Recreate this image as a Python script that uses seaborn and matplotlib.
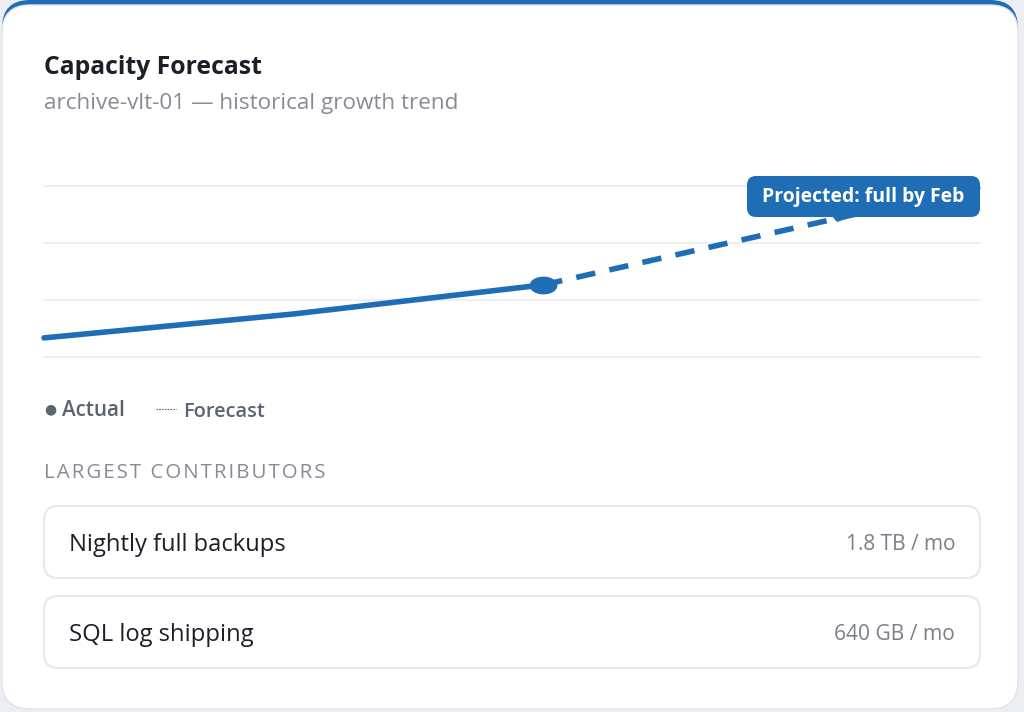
import numpy as np
import pandas as pd
import seaborn as sns
import matplotlib.pyplot as plt
from matplotlib.patches import FancyBboxPatch, Polygon
from matplotlib.path import Path

# ── data ────────────────────────────────────────────────────────────────────
months_actual = [0, 4, 8]            # months since start of history
used_actual = [46.7, 55.1, 65.3]     # % of capacity used
months_forecast = [8, 15]
used_forecast = [65.3, 100.0]
grid_levels = [40, 60, 80, 100]
contributors = ["Nightly full backups", "SQL log shipping"]
contrib_rates = ["1.8 TB / mo", "640 GB / mo"]

BLUE = "#1f6db5"
W, H = 1024, 712

sns.set_theme(style="white")
plt.rcParams["font.family"] = ["Open Sans", "DejaVu Sans"]

fig = plt.figure(figsize=(W / 100, H / 100), dpi=100)
fig.patch.set_facecolor("#eceef2")
renderer = fig.canvas.get_renderer()


def fit_text(ax, x, y, s, width, **kw):
    # size the text so that it spans the same width as in the mockup
    t = ax.text(x, y + 2, s, fontsize=12, **kw)
    w = t.get_window_extent(renderer=renderer).width
    t.set_fontsize(12 * width / w)
    return t


# background layer in pixel coordinates
bg = fig.add_axes([0, 0, 1, 1], zorder=-1)
bg.set_xlim(0, W)
bg.set_ylim(H, 0)
bg.axis("off")

bg.add_patch(FancyBboxPatch((2, 0), 1016, 709, boxstyle="round,pad=0,rounding_size=28",
                            facecolor=BLUE, edgecolor="none"))
bg.add_patch(FancyBboxPatch((2, 5), 1016, 704, boxstyle="round,pad=0,rounding_size=28",
                            facecolor="white", edgecolor="#e1e4e9", linewidth=1))

fit_text(bg, 44, 66, "Capacity Forecast", 218, fontweight="bold", color="#1b1f27",
         va="center", ha="left")
fit_text(bg, 44, 102, "archive-vlt-01 \u2014 historical growth trend", 411,
         color="#868b94", va="center", ha="left")

# legend
bg.text(44, 410, "\u25cf", fontsize=10, color="#5b6473", va="center", ha="left")
fit_text(bg, 62, 408, "Actual", 63, fontweight="semibold", color="#5b6473",
         va="center", ha="left")
bg.plot([156, 176], [409, 409], color="#5b6473", linewidth=0.8, linestyle=(0, (1.5, 1)))
fit_text(bg, 183, 410, "Forecast", 82, fontweight="semibold", color="#5b6473",
         va="center", ha="left")

fit_text(bg, 44, 471, "\u200a".join("LARGEST CONTRIBUTORS"), 281,
         color="#868b94", va="center", ha="left")

row_tops = [506, 596]
name_widths = [216, 184]
rate_widths = [110, 121]
for top, name, rate, nw, rw in zip(row_tops, contributors, contrib_rates,
                                   name_widths, rate_widths):
    bg.add_patch(FancyBboxPatch((44, top), 936, 72, boxstyle="round,pad=0,rounding_size=14",
                                facecolor="white", edgecolor="#e6e8ec", linewidth=1.5))
    fit_text(bg, 69, top + 37, name, nw, color="#1b1f27", va="center", ha="left")
    fit_text(bg, 955, top + 37, rate, rw, color="#7a7f88", va="center", ha="right")

# ── chart ───────────────────────────────────────────────────────────────────
ax = fig.add_axes([44 / W, 1 - 357 / H, 936 / W, 171 / H], zorder=1)
ax.set_facecolor("none")

actual = pd.DataFrame({"month": months_actual, "used": used_actual})
forecast = pd.DataFrame({"month": months_forecast, "used": used_forecast})

for lvl in grid_levels:
    ax.axhline(lvl, color="#eeeff1", linewidth=1.5, zorder=0, clip_on=False)

sns.lineplot(data=actual, x="month", y="used", ax=ax, color=BLUE, linewidth=4,
             zorder=3, clip_on=False)
sns.lineplot(data=forecast, x="month", y="used", ax=ax, color=BLUE, linewidth=4,
             dashes=False, linestyle=(0, (3.5, 2.6)), zorder=3, clip_on=False)

t = np.linspace(0, 2 * np.pi, 60)
ellipse = Path(np.c_[np.cos(t), 0.62 * np.sin(t)], closed=True)
ax.plot(months_actual[-1:], used_actual[-1:], marker=ellipse, markersize=19,
        color=BLUE, linestyle="none", zorder=4, clip_on=False)

ax.set_xlim(min(months_actual), max(months_forecast))
ax.set_ylim(min(grid_levels), max(grid_levels))
ax.set_xlabel("")
ax.set_ylabel("")
ax.set_xticks([])
ax.set_yticks([])
for s in ax.spines.values():
    s.set_visible(False)

# ── projection callout (top layer) ──────────────────────────────────────────
top = fig.add_axes([0, 0, 1, 1], zorder=3)
top.set_xlim(0, W)
top.set_ylim(H, 0)
top.axis("off")
top.set_facecolor("none")
top.add_patch(FancyBboxPatch((747, 176), 233, 41, boxstyle="round,pad=0,rounding_size=9",
                             facecolor=BLUE, edgecolor="none"))
top.add_patch(Polygon([(832, 216), (854, 216), (837, 222)], closed=True,
                      facecolor=BLUE, edgecolor="none"))
fit_text(top, 863, 195, "Projected: full by Feb", 202, fontweight="bold",
         color="white", va="center", ha="center")

fig.savefig("out.png", dpi=100, facecolor=fig.get_facecolor())
